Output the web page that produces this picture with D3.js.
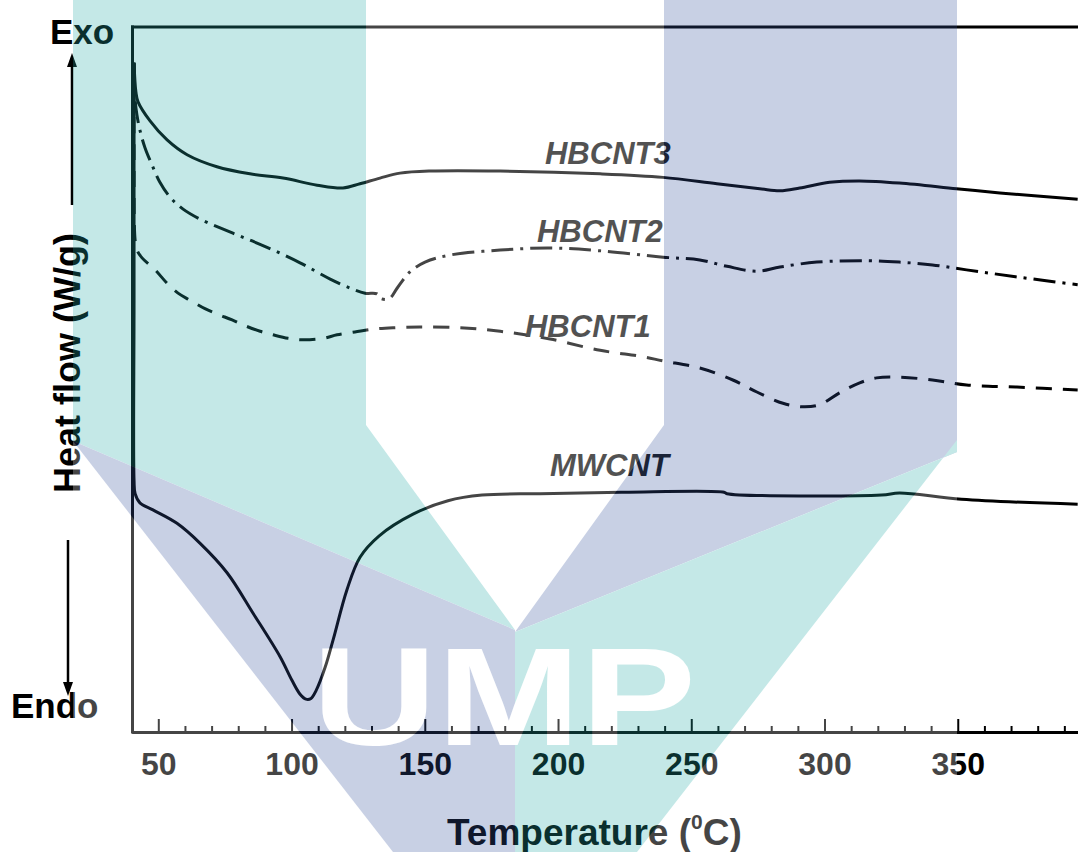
<!DOCTYPE html>
<html><head><meta charset="utf-8">
<script src="https://cdn.jsdelivr.net/npm/d3@7"></script>
<style>html,body{margin:0;padding:0;background:#fff;overflow:hidden}</style>
</head><body>
<svg id="chart" width="1078" height="852"></svg>
<script>
// ---- data (temperature in °C, heat flow in arbitrary units 0..100) ----
const hbcnt3T = [40.9, 41.6, 42.4, 46.9, 53.3, 60.8, 72.0, 84.4, 96.8, 109.6, 119.3, 125.7, 133.2, 140.7, 152.0, 178.3, 215.8, 239.4, 259.6, 275.7, 283.3, 290.7, 301.9, 313.2, 328.1, 349.5, 365.8, 395.0];
const hbcnt3V = [94.9, 90.8, 89.4, 86.7, 84.0, 81.9, 80.2, 79.2, 78.6, 77.6, 77.2, 77.8, 78.6, 79.3, 79.6, 79.6, 79.2, 78.7, 77.8, 77.1, 76.8, 77.2, 78.0, 78.2, 77.9, 77.1, 76.5, 75.6];

const hbcnt2T = [40.9, 41.3, 42.0, 43.1, 45.0, 47.6, 50.6, 54.4, 59.3, 65.6, 78.0, 90.8, 103.2, 114.5, 122.7, 127.6, 132.1, 133.2, 136.6, 139.6, 144.4, 150.1, 159.5, 178.3, 197.0, 215.8, 239.4, 253.2, 263.4, 274.6, 283.3, 297.1, 315.8, 328.1, 340.5, 353.3, 372.2, 395.0];
const hbcnt2V = [95.0, 89.7, 87.5, 85.4, 82.9, 80.5, 78.0, 75.9, 74.2, 72.8, 70.8, 68.8, 66.6, 64.3, 62.9, 62.3, 62.2, 61.6, 61.5, 63.0, 65.3, 66.7, 67.7, 68.4, 68.7, 68.3, 67.4, 67.0, 66.1, 65.4, 66.0, 66.7, 66.9, 66.7, 66.3, 65.6, 64.6, 63.5];

const hbcnt1T = [40.9, 40.9, 41.3, 42.0, 43.9, 48.8, 53.3, 57.4, 61.9, 67.5, 72.4, 77.7, 81.8, 88.2, 93.0, 98.7, 104.3, 111.8, 117.1, 123.8, 130.6, 138.1, 148.2, 163.2, 178.3, 197.0, 215.8, 231.9, 239.4, 253.2, 265.6, 274.6, 284.4, 291.8, 298.2, 305.7, 313.2, 319.5, 328.1, 340.5, 353.3, 372.2, 395.0];
const hbcnt1V = [94.9, 82.6, 69.8, 68.4, 67.3, 65.6, 63.7, 62.3, 61.3, 60.1, 59.3, 58.5, 57.8, 56.9, 56.4, 55.9, 55.7, 55.9, 56.4, 56.8, 57.2, 57.4, 57.5, 57.4, 56.9, 55.8, 54.2, 53.3, 52.7, 51.7, 50.0, 48.3, 46.7, 46.2, 46.5, 48.2, 49.6, 50.3, 50.4, 50.0, 49.3, 49.0, 48.6];

const mwcntT = [40.9, 40.9, 40.9, 41.3, 43.1, 48.0, 57.0, 65.6, 75.8, 85.5, 95.7, 100.1, 103.2, 105.4, 107.3, 109.2, 112.6, 115.6, 120.8, 125.7, 132.8, 145.6, 158.7, 171.5, 193.2, 224.7, 262.3, 263.4, 321.4, 328.1, 351.4, 395.0];
const mwcntV = [94.8, 61.3, 35.8, 33.9, 32.6, 31.6, 29.7, 26.9, 22.7, 17.0, 10.8, 7.5, 5.5, 4.8, 4.9, 6.0, 9.3, 13.2, 20.3, 24.9, 27.9, 31.0, 32.9, 33.7, 33.9, 34.1, 34.1, 33.9, 33.7, 34.0, 33.1, 32.4];

const seriesNames = ["HBCNT3", "HBCNT2", "HBCNT1", "MWCNT"];
const xMajorTicks = [50, 100, 150, 200, 250, 300, 350];
const xTickLabels = ["50", "100", "150", "200", "250", "300", "350"];

// ---- layout ----
const W = 1078, H = 852;
const FONT = "'Liberation Sans', Arial, Helvetica, sans-serif";
const svg = d3.select("#chart");
svg.append("rect").attr("width", W).attr("height", H).attr("fill", "#fff");

const x = d3.scaleLinear().domain([40, 400]).range([131.65, 1091]);
const y = d3.scaleLinear().domain([0, 100]).range([733, 27]);

const series = [
  {name: seriesNames[0], T: hbcnt3T, V: hbcnt3V, dash: null, lab: [195.1, 80.6]},
  {name: seriesNames[1], T: hbcnt2T, V: hbcnt2V, dash: "22,7,3,7", lab: [192.1, 69.5]},
  {name: seriesNames[2], T: hbcnt1T, V: hbcnt1V, dash: "16,11", lab: [187.6, 56.1]},
  {name: seriesNames[3], T: mwcntT, V: mwcntV, dash: null, lab: [197.0, 36.4]}
];

const line = d3.line()
  .x(d => x(d[0])).y(d => y(d[1]))
  .curve(d3.curveCatmullRom.alpha(0.5));

// frame lines
svg.append("line").attr("x1", 132.5).attr("x2", 132.5).attr("y1", 25.5).attr("y2", 733.5)
  .attr("stroke", "#000").attr("stroke-width", 3);
svg.append("line").attr("x1", 131).attr("x2", W).attr("y1", 27).attr("y2", 27)
  .attr("stroke", "#000").attr("stroke-width", 3);

// x axis: minor and major ticks
const minorTicks = d3.range(60, 400, 10).filter(v => v % 50 !== 0);
const gMinor = svg.append("g").attr("transform", "translate(0,732)")
  .call(d3.axisBottom(x).tickValues(minorTicks).tickSize(-6).tickSizeOuter(0).tickFormat(""));
gMinor.select(".domain").remove();
gMinor.selectAll(".tick line").attr("stroke", "#000").attr("stroke-width", 2);

const gMajor = svg.append("g").attr("transform", "translate(0,732)")
  .call(d3.axisBottom(x).tickValues(xMajorTicks).tickSize(-13).tickSizeOuter(0)
    .tickPadding(20).tickFormat((d, i) => xTickLabels[i]));
gMajor.attr("font-family", FONT).attr("font-size", 32).attr("font-weight", "bold").attr("color", "#000");
gMajor.select(".domain").attr("stroke-width", 3);
gMajor.selectAll(".tick line").attr("stroke-width", 2);

// curves
series.forEach(s => {
  const pts = s.T.map((t, i) => [t, s.V[i]]);
  svg.append("path").attr("d", line(pts))
    .attr("fill", "none").attr("stroke", "#000").attr("stroke-width", 3)
    .attr("stroke-linejoin", "round")
    .attr("stroke-dasharray", s.dash);
  svg.append("text").attr("x", x(s.lab[0])).attr("y", y(s.lab[1]))
    .attr("font-family", FONT).attr("font-size", 31).attr("font-weight", "bold")
    .attr("font-style", "italic").attr("fill", "#111").text(s.name);
});

// y label & arrows
svg.append("text").attr("transform", "translate(80,363) rotate(-90)")
  .attr("text-anchor", "middle").attr("font-family", FONT).attr("font-size", 36)
  .attr("font-weight", "bold").attr("fill", "#000").text("Heat flow (W/g)");
svg.append("text").attr("x", 50).attr("y", 44).attr("font-family", FONT).attr("font-size", 35)
  .attr("font-weight", "bold").attr("fill", "#000").text("Exo");
svg.append("text").attr("x", 11).attr("y", 718).attr("font-family", FONT).attr("font-size", 35)
  .attr("font-weight", "bold").attr("fill", "#000").text("Endo");
svg.append("line").attr("x1", 72).attr("x2", 72).attr("y1", 205).attr("y2", 64)
  .attr("stroke", "#000").attr("stroke-width", 2.5);
svg.append("path").attr("d", "M72,53 L67,67 L77,67 Z").attr("fill", "#000");
svg.append("line").attr("x1", 68).attr("x2", 68).attr("y1", 540).attr("y2", 684)
  .attr("stroke", "#000").attr("stroke-width", 2.5);
svg.append("path").attr("d", "M68,696 L63,682 L73,682 Z").attr("fill", "#000");

// x label
const xl = svg.append("text").attr("x", 447).attr("y", 845).attr("font-family", FONT)
  .attr("font-size", 37).attr("font-weight", "bold").attr("fill", "#000");
xl.append("tspan").text("Temperature (");
xl.append("tspan").attr("dy", -16).attr("font-size", 21).text("0");
xl.append("tspan").attr("dy", 16).text("C)");

// ---- watermark overlay (logo) ----
const wm = svg.append("g").attr("opacity", 0.27);
wm.append("rect").attr("x", 73).attr("y", 0).attr("width", 884).attr("height", H).attr("fill", "#fff");
const teal = "rgb(40,174,170)", blue = "rgb(55,85,159)";
const poly = (pts, c) => wm.append("polygon").attr("points", pts.map(p => p.join(",")).join(" ")).attr("fill", c);
poly([[73,0],[366,0],[366,425],[515,630],[73,441]], teal);
poly([[73,441],[515,630],[515,852],[393,852]], blue);
poly([[957,0],[664,0],[664,425],[515,632],[957,452]], blue);
poly([[957,440],[957,452],[515,632],[515,852],[637,852]], teal);
wm.append("text").attr("x", 312).attr("y", 745).attr("font-family", FONT)
  .attr("font-size", 140).attr("font-weight", "bold").attr("fill", "#fff")
  .attr("textLength", 384).attr("lengthAdjust", "spacingAndGlyphs").text("UMP");
</script>
</body></html>
